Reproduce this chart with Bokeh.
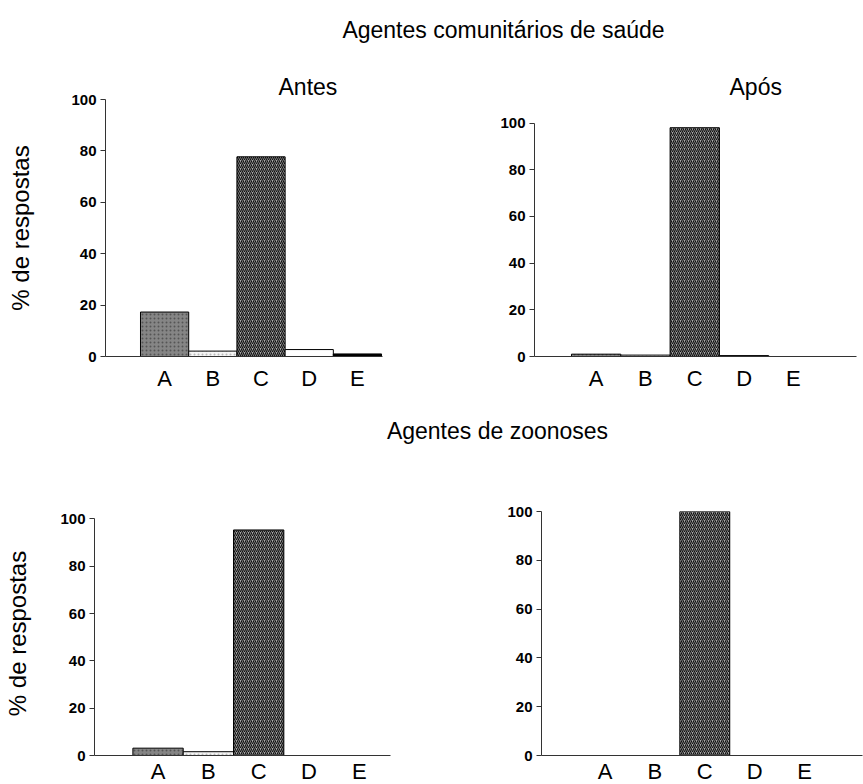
from bokeh.plotting import figure
from bokeh.layouts import column, row
from bokeh.models import ColumnDataSource, FixedTicker, Label, Range1d, Title
from bokeh.embed import file_html
from bokeh.resources import INLINE

# Response categories and the share of answers (%) in each group
categories = ["A", "B", "C", "D", "E"]
acs_antes = [17.3, 2.1, 77.7, 2.7, 1.0]   # agentes comunitários, antes
acs_apos = [1.0, 0.6, 98.0, 0.4, 0.0]     # agentes comunitários, após
az_antes = [3.1, 1.6, 95.3, 0.0, 0.0]     # agentes de zoonoses, antes
az_apos = [0.0, 0.0, 100.0, 0.0, 0.0]     # agentes de zoonoses, após
y_ticks = [0, 20, 40, 60, 80, 100]

FONT = "Liberation Sans"

# One fill style per answer category
fills = ["#858585", "#f4f4f4", "#a8a8a8", "#ffffff", "#000000"]
hatches = [".", ".", "/", " ", " "]
hatch_colors = ["#555555", "#b8b8b8", "#111111", "#000000", "#000000"]
hatch_scales = [4, 4, 4, 4, 4]
hatch_weights = [1.5, 1.5, 1.2, 1, 1]


def chart(values, x_start, x_end, y_end, fw, fh, bl, bt, bb, br,
          ylabel=None, cat_standoff=10, ylabel_standoff=30,
          subtitle=None, sub_offset=0):
    src = ColumnDataSource(dict(
        x=list(range(1, len(categories) + 1)), top=values,
        fill=fills, hatch=hatches, hcolor=hatch_colors,
        hscale=hatch_scales, hweight=hatch_weights,
    ))
    p = figure(frame_width=fw, frame_height=fh,
               min_border_left=bl, min_border_top=bt,
               min_border_bottom=bb, min_border_right=br,
               x_range=Range1d(x_start, x_end), y_range=Range1d(0, y_end),
               toolbar_location=None, output_backend="svg")
    p.vbar(x="x", top="top", bottom=0, width=1.0, source=src,
           fill_color="fill", line_color="#000000", line_width=1,
           hatch_pattern="hatch", hatch_color="hcolor",
           hatch_scale="hscale", hatch_weight="hweight")

    p.grid.visible = False
    p.outline_line_color = None

    xa = p.xaxis[0]
    xa.ticker = FixedTicker(ticks=list(range(1, len(categories) + 1)))
    xa.major_label_overrides = {i + 1: c for i, c in enumerate(categories)}
    xa.major_tick_line_color = None
    xa.major_tick_out = 0
    xa.major_tick_in = 0
    xa.minor_tick_line_color = None
    xa.axis_line_color = "#333333"
    xa.major_label_text_font = FONT
    xa.major_label_text_font_size = "22px"
    xa.major_label_text_color = "#000000"
    xa.major_label_standoff = cat_standoff

    ya = p.yaxis[0]
    ya.ticker = FixedTicker(ticks=y_ticks)
    ya.bounds = (0, 100)
    ya.minor_tick_line_color = None
    ya.major_tick_in = 0
    ya.major_tick_out = 5
    ya.major_tick_line_color = "#333333"
    ya.axis_line_color = "#333333"
    ya.major_label_text_font = FONT
    ya.major_label_text_font_size = "15px"
    ya.major_label_text_font_style = "bold"
    ya.major_label_text_color = "#000000"
    ya.major_label_standoff = 4
    if ylabel:
        ya.axis_label = ylabel
        ya.axis_label_text_font = FONT
        ya.axis_label_text_font_size = "24px"
        ya.axis_label_text_font_style = "normal"
        ya.axis_label_text_color = "#000000"
        ya.axis_label_standoff = ylabel_standoff

    if subtitle:
        p.add_layout(Title(text=subtitle, align="left", offset=sub_offset,
                           standoff=0, text_font=FONT, text_font_size="23px",
                           text_font_style="normal", text_color="#000000"),
                     "above")
    return p


def heading(text, w, h, cx, cy):
    p = figure(width=w, height=h, min_border=0, x_range=Range1d(0, 1),
               y_range=Range1d(0, 1), x_axis_location=None,
               y_axis_location=None, toolbar_location=None,
               output_backend="svg")
    p.grid.visible = False
    p.outline_line_color = None
    p.add_layout(Label(x=cx, y=h - cy, x_units="screen", y_units="screen",
                       text=text, text_align="center", text_baseline="middle",
                       text_font=FONT, text_font_size="23px",
                       text_color="#000000"))
    return p


h1 = heading("Agentes comunitários de saúde", 863, 60, 503, 29)

tl = chart(acs_antes, -0.226, 5.52, 100.0, 277, 257, 105, 39, 44, 58,
           ylabel="% de respostas", cat_standoff=9, ylabel_standoff=34,
           subtitle="Antes", sub_offset=173)
tr = chart(acs_apos, -0.25, 6.28, 110.1, 322, 257, 94, 39, 44, 7,
           cat_standoff=9, subtitle="Após", sub_offset=195)

h2 = heading("Agentes de zoonoses", 863, 80, 497, 30)

bl = chart(az_antes, -0.263, 5.62, 103.1, 296, 244, 94, 31, 29, 50,
           ylabel="% de respostas", cat_standoff=3, ylabel_standoff=26)
br = chart(az_apos, -0.272, 6.16, 100.0, 321, 244, 101, 31, 29, 1,
           cat_standoff=3)

layout = column(h1, row(tl, tr, spacing=0), h2, row(bl, br, spacing=0), spacing=0)

open("out.html", "w").write(file_html(layout, INLINE))
